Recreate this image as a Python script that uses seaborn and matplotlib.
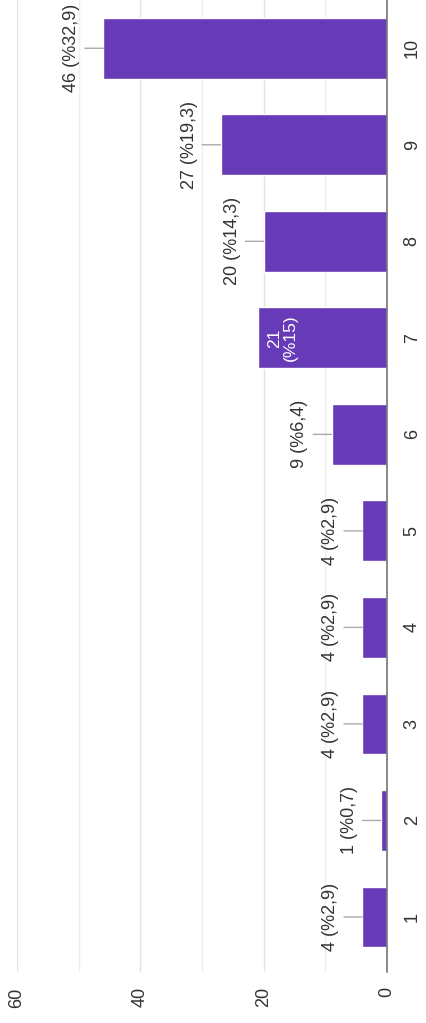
import matplotlib
matplotlib.use("Agg")
import matplotlib.pyplot as plt
import seaborn as sns
import pandas as pd

# Response counts per rating (1-10) and their share of all answers
ratings = ["1", "2", "3", "4", "5", "6", "7", "8", "9", "10"]
counts = [4, 1, 4, 4, 4, 9, 21, 20, 27, 46]
percents = ["2,9", "0,7", "2,9", "2,9", "2,9", "6,4", "15", "14,3", "19,3", "32,9"]
value_ticks = [0, 20, 40, 60]

BAR = "#673ab7"
GRID = "#e3e3e3"
TEXT = "#333333"

sns.set_theme(style="white")
plt.rcParams["font.family"] = ["Liberation Sans", "DejaVu Sans"]

df = pd.DataFrame({"rating": ratings, "count": counts})
order = ratings[::-1]  # highest rating at the top

fig = plt.figure(figsize=(4.26, 10.23), dpi=100)
ax = fig.add_axes([17 / 426, 51 / 1023, 370 / 426, 972 / 1023])

sns.barplot(data=df, x="count", y="rating", order=order, orient="h",
            color=BAR, saturation=1, width=0.63, ax=ax, zorder=3)

ax.set_xlim(60, 0)
ax.set_ylim(9.57, -0.5)

# value gridlines (major + lighter minor)
ax.set_xticks(value_ticks)
ax.set_xticks([10, 30, 50], minor=True)
ax.grid(axis="x", which="major", color=GRID, lw=1, zorder=0)
ax.grid(axis="x", which="minor", color="#efefef", lw=1, zorder=0)
ax.grid(axis="y", visible=False)

for side in ["top", "left", "bottom"]:
    ax.spines[side].set_visible(False)
ax.spines["right"].set_color("#777777")
ax.spines["right"].set_linewidth(1.2)
ax.spines["right"].set_zorder(4)

ax.set_xticklabels([str(v) for v in value_ticks], rotation=90, fontsize=13,
                   color=TEXT, va="top", ha="center")
ax.tick_params(axis="x", which="both", length=0, pad=11)

ax.yaxis.tick_right()
ax.tick_params(axis="y", length=0, pad=12, labelsize=13, labelcolor=TEXT)
for lbl in ax.get_yticklabels():
    lbl.set_rotation(90)
    lbl.set_va("center")
    lbl.set_ha("left")

ax.set_xlabel("")
ax.set_ylabel("")

# value labels with leader lines; the 7 bar carries its label inside
for r, c, p in zip(ratings, counts, percents):
    pos = order.index(r)
    if r == "7":
        ax.annotate(f"{c}\n(%{p})", xy=(c, pos), xytext=(10, 0),
                    textcoords="offset pixels", rotation=90, ha="left",
                    va="center", multialignment="center", fontsize=12.5,
                    color="white", zorder=5, linespacing=1.0)
    else:
        ax.annotate(f"{c} (%{p})", xy=(c, pos), xytext=(-23, 0),
                    textcoords="offset pixels", rotation=90, ha="right",
                    va="center", fontsize=13, color=TEXT, zorder=5,
                    arrowprops=dict(arrowstyle="-", color="#aaaaaa", lw=1,
                                    shrinkA=1, shrinkB=0))

fig.savefig("out.png", dpi=100, facecolor="white")
